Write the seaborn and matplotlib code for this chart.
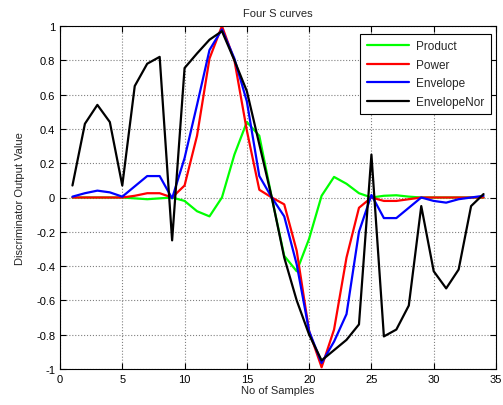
import numpy as np
import pandas as pd
import matplotlib
matplotlib.use("Agg")
import matplotlib.pyplot as plt
import seaborn as sns
from matplotlib.ticker import FuncFormatter

samples = list(range(1, 35))
product = [0, 0, 0, 0, 0, -0.005, -0.01, -0.005, 0, -0.02, -0.08, -0.11, 0.0, 0.25, 0.44, 0.36, 0.0,
           -0.34, -0.43, -0.24, 0.01, 0.12, 0.08, 0.025, 0.0, 0.01, 0.013, 0.005, 0, 0, 0, 0, 0, 0]
power = [0, 0, 0, 0, 0, 0.01, 0.025, 0.025, 0.0, 0.07, 0.36, 0.81, 1.0, 0.8, 0.39, 0.045, 0.0,
         -0.04, -0.31, -0.78, -0.99, -0.77, -0.35, -0.06, 0.0, -0.02, -0.02, -0.01, 0, 0, 0, 0, 0, 0]
envelope = [0.005, 0.025, 0.04, 0.03, 0.005, 0.065, 0.125, 0.125, -0.005, 0.23, 0.54, 0.86, 0.98, 0.81,
            0.56, 0.125, 0.0, -0.11, -0.39, -0.78, -0.965, -0.84, -0.68, -0.2, 0.015, -0.12, -0.12,
            -0.06, 0.0, -0.02, -0.03, -0.01, 0.0, 0.01]
envelope_nor = [0.07, 0.43, 0.54, 0.44, 0.07, 0.65, 0.78, 0.82, -0.25, 0.755, 0.84, 0.92, 0.97, 0.80,
                0.62, 0.31, 0.0, -0.35, -0.6, -0.8, -0.95, -0.89, -0.83, -0.74, 0.25, -0.81, -0.77,
                -0.63, -0.05, -0.43, -0.53, -0.42, -0.05, 0.02]
series_names = ["Product", "Power", "Envelope", "EnvelopeNor"]
colors = ["#00ff00", "#ff0000", "#0000ff", "#000000"]

df = pd.concat([
    pd.DataFrame({"x": samples, "y": vals, "series": name})
    for name, vals in zip(series_names, [product, power, envelope, envelope_nor])
])

sns.set_style("white")
plt.rcParams["font.family"] = ["Liberation Sans", "DejaVu Sans"]

fig = plt.figure(figsize=(5.03, 4.06), dpi=100)
ax = fig.add_axes([60 / 503, 1 - 370 / 406, 436 / 503, 343 / 406])

sns.lineplot(data=df, x="x", y="y", hue="series", hue_order=series_names,
             palette=dict(zip(series_names, colors)), linewidth=1.6, ax=ax)

ax.set_xlim(0, 35)
ax.set_ylim(-1, 1)
ax.set_xticks(np.arange(0, 36, 5))
ax.set_yticks(np.round(np.arange(-1, 1.01, 0.2), 1))

def fmt(v, pos):
    v = round(v, 1)
    if v == 0:
        return "0"
    if v == int(v):
        return str(int(v))
    return ("%g" % v)

ax.yaxis.set_major_formatter(FuncFormatter(fmt))
ax.tick_params(direction="in", length=4, labelsize=8, top=True, right=True,
               bottom=True, left=True, colors="black", width=0.8)
ax.grid(True, linestyle=":", color="#808080", linewidth=0.8)
for sp in ax.spines.values():
    sp.set_color("black")
    sp.set_linewidth(0.8)

ax.set_xlabel("No of Samples", fontsize=8, labelpad=1)
ax.set_ylabel("Discriminator Output Value", fontsize=8, labelpad=8)
ax.set_title("Four S curves", fontsize=8, pad=7)

leg = ax.legend(loc="upper right", fontsize=8.5, frameon=True, fancybox=False,
                edgecolor="black", handlelength=3.6, borderpad=0.55, labelspacing=0.55,
                handletextpad=0.6, borderaxespad=0,
                bbox_to_anchor=((491 - 60) / 436, (370 - 35) / 343), framealpha=1)
leg.get_frame().set_linewidth(0.8)

fig.savefig("out.png", dpi=100)
